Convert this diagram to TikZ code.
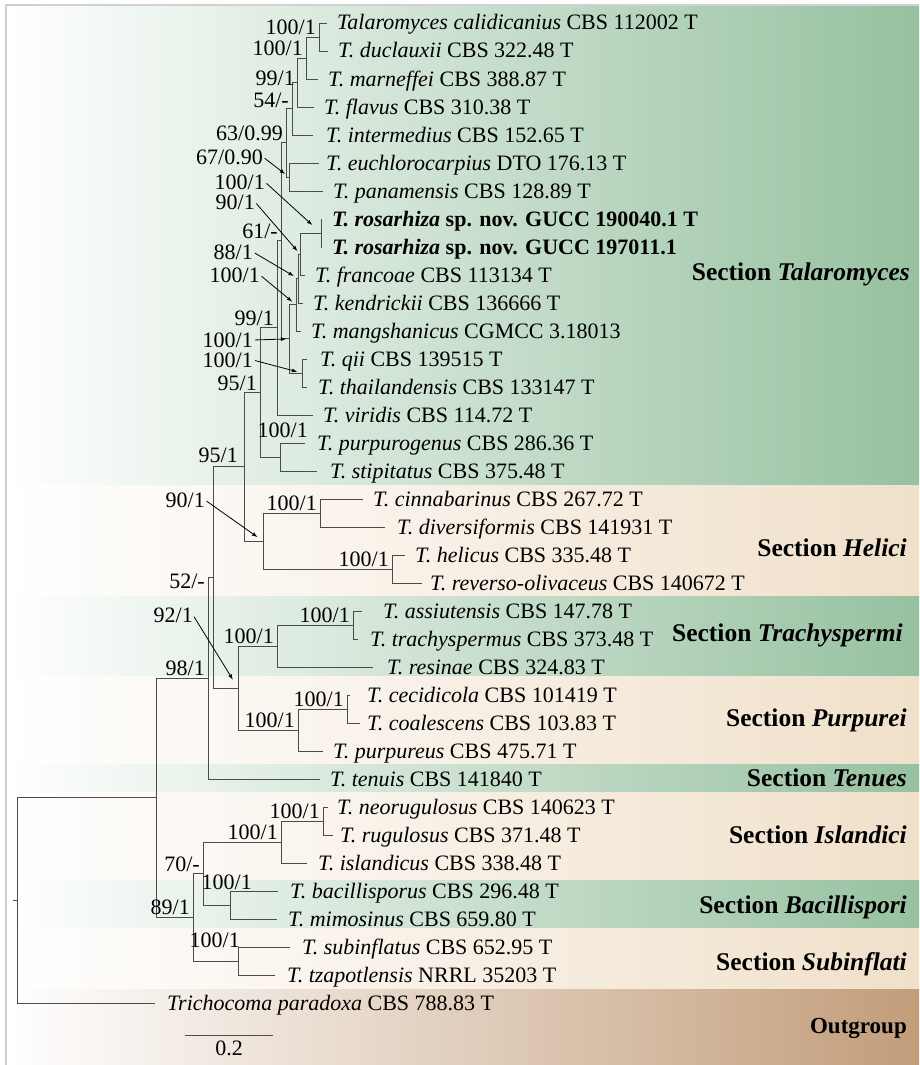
\documentclass[tikz,border=0pt]{standalone}
\usepackage{fontspec}
\setmainfont{Liberation Serif}
\usetikzlibrary{positioning}
\definecolor{BandGreen}{RGB}{150,193,160}
\definecolor{BandBeige}{RGB}{240,224,202}
\definecolor{BandBrown}{RGB}{194,157,122}
\definecolor{TreeGray}{RGB}{75,75,75}
\tikzset{
  branch/.style={TreeGray, line width=0.9pt},
  leaf/.style={anchor=west, inner xsep=#1, inner ysep=0pt, text height=15pt, text depth=1pt, font=\fontsize{22}{26}\selectfont},
  leaf/.default=10pt,
  support/.style={anchor=base east, inner sep=0pt, font=\fontsize{22}{26}\selectfont},
  bs/.style={support, xshift=-3pt, yshift=2.5pt},
  bsarrow/.style={anchor=east, inner sep=0pt, text height=15pt, text depth=0pt, font=\fontsize{22}{26}\selectfont},
  pointer/.style={-latex, line width=0.8pt, black, shorten <=2pt, shorten >=#1},
  pointer/.default=4pt,
  section/.style={anchor=base east, inner sep=0pt, font=\fontsize{25.5}{30}\selectfont\bfseries},
  band/.style={left color=white, middle color=#1!42!white, right color=#1},
}
\begin{document}
\begin{tikzpicture}[x=1pt, y=-1pt]
    \useasboundingbox (0,0) rectangle (919,1065);
    % section bands
    \shade [band=BandGreen] (7,6)    rectangle (919,485);
    \shade [band=BandBeige] (7,485)  rectangle (919,596);
    \shade [band=BandGreen] (7,596)  rectangle (919,676);
    \shade [band=BandBeige] (7,676)  rectangle (919,764);
    \shade [band=BandGreen] (7,764)  rectangle (919,792);
    \shade [band=BandBeige] (7,792)  rectangle (919,880);
    \shade [band=BandGreen] (7,880)  rectangle (919,928);
    \shade [band=BandBeige] (7,928)  rectangle (919,989);
    \shade [band=BandBrown] (7,989)  rectangle (919,1065);
    \draw [black!18, line width=1.5pt] (6,1065) -- (6,5) -- (919,5);% frame

    % taxa
    \node[leaf]     (calidicanius)    at (327,23)   {\textit{Talaromyces calidicanius} CBS 112002 T};
    \node[leaf]     (duclauxii)       at (328,51)   {\textit{T. duclauxii} CBS 322.48 T};
    \node[leaf]     (marneffei)       at (318,79)   {\textit{T. marneffei} CBS 388.87 T};
    \node[leaf]     (flavus)          at (314,107)  {\textit{T. flavus} CBS 310.38 T};
    \node[leaf=13pt] (intermedius)    at (313,135)  {\textit{T. intermedius} CBS 152.65 T};
    \node[leaf=7pt] (euchlorocarpius) at (319,163)  {\textit{T. euchlorocarpius} DTO 176.13 T};
    \node[leaf]     (panamensis)      at (323,191)  {\textit{T. panamensis} CBS 128.89 T};
    \node[leaf]     (rosaA)           at (322,219)  {\textbf{\textit{T. rosarhiza} sp. nov. GUCC 190040.1 T}};
    \node[leaf]     (rosaB)           at (322,247)  {\textbf{\textit{T. rosarhiza} sp. nov. GUCC 197011.1}};
    \node[leaf]     (francoae)        at (305,275)  {\textit{T. francoae} CBS 113134 T};
    \node[leaf]     (kendrickii)      at (303,303)  {\textit{T. kendrickii} CBS 136666 T};
    \node[leaf]     (mangshanicus)    at (301,331)  {\textit{T. mangshanicus} CGMCC 3.18013};
    \node[leaf=13pt] (qii)            at (307,359)  {\textit{T. qii} CBS 139515 T};
    \node[leaf=11pt] (thailandensis)  at (307,387)  {\textit{T. thailandensis} CBS 133147 T};
    \node[leaf]     (viridis)         at (313,415)  {\textit{T. viridis} CBS 114.72 T};
    \node[leaf=12pt] (purpurogenus)   at (305,443)  {\textit{T. purpurogenus} CBS 286.36 T};
    \node[leaf=13pt] (stipitatus)     at (317,471)  {\textit{T. stipitatus} CBS 375.48 T};
    \node[leaf]     (cinnabarinus)    at (363,499)  {\textit{T. cinnabarinus} CBS 267.72 T};
    \node[leaf=12pt] (diversiformis)  at (385,527)  {\textit{T. diversiformis} CBS 141931 T};
    \node[leaf]     (helicus)         at (405,555)  {\textit{T. helicus} CBS 335.48 T};
    \node[leaf=8pt] (reverso)         at (422,583)  {\textit{T. reverso-olivaceus} CBS 140672 T};
    \node[leaf=21pt] (assiutensis)    at (362,611)  {\textit{T. assiutensis} CBS 147.78 T};
    \node[leaf=12pt] (trachyspermus)  at (358,639)  {\textit{T. trachyspermus} CBS 373.48 T};
    \node[leaf=14pt] (resinae)        at (373,667)  {\textit{T. resinae} CBS 324.83 T};
    \node[leaf=17pt] (cecidicola)     at (350,695)  {\textit{T. cecidicola} CBS 101419 T};
    \node[leaf=7pt] (coalescens)      at (360,723)  {\textit{T. coalescens} CBS 103.83 T};
    \node[leaf]     (purpureus)       at (323,751)  {\textit{T. purpureus} CBS 475.71 T};
    \node[leaf]     (tenuis)          at (320,779)  {\textit{T. tenuis} CBS 141840 T};
    \node[leaf=9pt] (neorugulosus)    at (328,807)  {\textit{T. neorugulosus} CBS 140623 T};
    \node[leaf=7pt] (rugulosus)       at (333,835)  {\textit{T. rugulosus} CBS 371.48 T};
    \node[leaf=11pt] (islandicus)     at (307,863)  {\textit{T. islandicus} CBS 338.48 T};
    \node[leaf=12pt] (bacillisporus)  at (278,891)  {\textit{T. bacillisporus} CBS 296.48 T};
    \node[leaf=11pt] (mimosinus)      at (277,919)  {\textit{T. mimosinus} CBS 659.80 T};
    \node[leaf=12pt] (subinflatus)    at (290,947)  {\textit{T. subinflatus} CBS 652.95 T};
    \node[leaf=12pt] (tzapotlensis)   at (275,975)  {\textit{T. tzapotlensis} NRRL 35203 T};
    \node[leaf=12pt] (paradoxa)       at (155,1003) {\textit{Trichocoma paradoxa} CBS 788.83 T};

    % internal nodes
    \coordinate (CalDuc)   at (319,37);
    \coordinate (Marn)     at (306,58);
    \coordinate (Flav)     at (297,82.5);
    \coordinate (Inter)    at (292,108.75);
    \coordinate (EuchPan)  at (289,177);
    \coordinate (UpperTal) at (286,142.9);
    \coordinate (Rosa)     at (321,233);
    \coordinate (Franc)    at (300,254);
    \coordinate (Kend)     at (298,278.5);
    \coordinate (Mang)     at (296,304.75);
    \coordinate (QiiTha)   at (302,373);
    \coordinate (MidTal)   at (289,338.9);
    \coordinate (CoreTal)  at (281,240.9);
    \coordinate (Virid)    at (277,327.9);
    \coordinate (PurSti)   at (280,457);
    \coordinate (SecTal)   at (260,392.5);
    \coordinate (CinDiv)   at (320,513);
    \coordinate (HelRev)   at (392,569);
    \coordinate (SecHel)   at (263,541);
    \coordinate (TalHel)   at (244,466.7);
    \coordinate (AssTra)   at (353,625);
    \coordinate (SecTra)   at (277,646);
    \coordinate (CecCoa)   at (347,709);
    \coordinate (SecPur)   at (298,730);
    \coordinate (TraPur)   at (238,688);
    \coordinate (Clade52)  at (213,577.4);
    \coordinate (Clade98)  at (208,678.2);
    \coordinate (NeoRug)   at (323,821);
    \coordinate (SecIsl)   at (281,842);
    \coordinate (SecBac)   at (230,905);
    \coordinate (IslBac)   at (203,873.5);
    \coordinate (SecSub)   at (238,961);
    \coordinate (Clade89)  at (193,917.2);
    \coordinate (Ingroup)  at (156,797.7);
    \coordinate (Root)     at (17,900.4);
    \coordinate (RootStub) at (13,900.4);

    % branches
    \draw[branch] (CalDuc) |- (calidicanius.west)  (CalDuc) |- (duclauxii.west);
    \draw[branch] (Marn) |- (CalDuc)  (Marn) |- (marneffei.west);
    \draw[branch] (Flav) |- (Marn)  (Flav) |- (flavus.west);
    \draw[branch] (Inter) |- (Flav)  (Inter) |- (intermedius.west);
    \draw[branch] (EuchPan) |- (euchlorocarpius.west)  (EuchPan) |- (panamensis.west);
    \draw[branch] (UpperTal) |- (Inter)  (UpperTal) |- (EuchPan);
    \draw[branch] (Rosa) |- (rosaA.west)  (Rosa) |- (rosaB.west);
    \draw[branch] (Franc) |- (Rosa)  (Franc) |- (francoae.west);
    \draw[branch] (Kend) |- (Franc)  (Kend) |- (kendrickii.west);
    \draw[branch] (Mang) |- (Kend)  (Mang) |- (mangshanicus.west);
    \draw[branch] (QiiTha) |- (qii.west)  (QiiTha) |- (thailandensis.west);
    \draw[branch] (MidTal) |- (Mang)  (MidTal) |- (QiiTha);
    \draw[branch] (CoreTal) |- (UpperTal)  (CoreTal) |- (MidTal);
    \draw[branch] (Virid) |- (CoreTal)  (Virid) |- (viridis.west);
    \draw[branch] (PurSti) |- (purpurogenus.west)  (PurSti) |- (stipitatus.west);
    \draw[branch] (SecTal) |- (Virid)  (SecTal) |- (PurSti);
    \draw[branch] (CinDiv) |- (cinnabarinus.west)  (CinDiv) |- (diversiformis.west);
    \draw[branch] (HelRev) |- (helicus.west)  (HelRev) |- (reverso.west);
    \draw[branch] (SecHel) |- (CinDiv)  (SecHel) |- (HelRev);
    \draw[branch] (TalHel) |- (SecTal)  (TalHel) |- (SecHel);
    \draw[branch] (AssTra) |- (assiutensis.west)  (AssTra) |- (trachyspermus.west);
    \draw[branch] (SecTra) |- (AssTra)  (SecTra) |- (resinae.west);
    \draw[branch] (CecCoa) |- (cecidicola.west)  (CecCoa) |- (coalescens.west);
    \draw[branch] (SecPur) |- (CecCoa)  (SecPur) |- (purpureus.west);
    \draw[branch] (TraPur) |- (SecTra)  (TraPur) |- (SecPur);
    \draw[branch] (Clade52) |- (TalHel)  (Clade52) |- (TraPur);
    \draw[branch] (Clade98) |- (Clade52)  (Clade98) |- (tenuis.west);
    \draw[branch] (NeoRug) |- (neorugulosus.west)  (NeoRug) |- (rugulosus.west);
    \draw[branch] (SecIsl) |- (NeoRug)  (SecIsl) |- (islandicus.west);
    \draw[branch] (SecBac) |- (bacillisporus.west)  (SecBac) |- (mimosinus.west);
    \draw[branch] (IslBac) |- (SecIsl)  (IslBac) |- (SecBac);
    \draw[branch] (SecSub) |- (subinflatus.west)  (SecSub) |- (tzapotlensis.west);
    \draw[branch] (Clade89) |- (IslBac)  (Clade89) |- (SecSub);
    \draw[branch] (Ingroup) |- (Clade98)  (Ingroup) |- (Clade89);
    \draw[branch] (Root) |- (Ingroup)  (Root) |- (paradoxa.west);
    \draw[branch] (RootStub) -- (Root);

    % support values
    \node[bs] at (CalDuc) {100/1};
    \node[bs] at (Marn) {100/1};
    \node[support] at (295,85) {99/1};
    \node[bs, yshift=-1.5pt] at (Inter) {54/-};
    \node[bs] at (UpperTal) {63/0.99};
    \node[bs] at (CoreTal) {61/-};
    \node[bs] at (Virid) {99/1};
    \node[bs] at (SecTal) {95/1};
    \node[support] at (308,437) {100/1};
    \node[bs] at (CinDiv) {100/1};
    \node[bs] at (HelRev) {100/1};
    \node[support] at (238,462) {95/1};
    \node[bs] at (AssTra) {100/1};
    \node[bs] at (SecTra) {100/1};
    \node[bs] at (CecCoa) {100/1};
    \node[bs] at (SecPur) {100/1};
    \node[support] at (205,588) {52/-};
    \node[bs] at (Clade98) {98/1};
    \node[bs] at (NeoRug) {100/1};
    \node[bs] at (SecIsl) {100/1};
    \node[bs] at (IslBac) {70/-};
    \node[support] at (252,889) {100/1};
    \node[support] at (240,947) {100/1};
    \node[bs] at (Clade89) {89/1};

    % support values with pointers
    \node[bsarrow] (LabEuchPan) at (263,157) {67/0.90};
    \node[bsarrow] (LabRosa)    at (265,182) {100/1};
    \node[bsarrow] (LabFranc)   at (255,202) {90/1};
    \node[bsarrow] (LabKend)    at (253,252) {88/1};
    \node[bsarrow] (LabMang)    at (260,275) {100/1};
    \node[bsarrow] (LabMidTal)  at (253,340) {100/1};
    \node[bsarrow] (LabQiiTha)  at (253,360) {100/1};
    \node[bsarrow] (LabSecHel)  at (205,500) {90/1};
    \node[bsarrow] (LabTraPur)  at (193,615) {92/1};
    \draw[pointer=5pt]  (LabEuchPan.east) -- (EuchPan);
    \draw[pointer=12pt] (LabRosa.east) -- (Rosa);
    \draw[pointer=4pt]  (LabFranc.east) -- (Franc);
    \draw[pointer=5pt]  (LabKend.east) -- (Kend);
    \draw[pointer=5pt]  (LabMang.east) -- (Mang);
    \draw[pointer=3pt]  (LabMidTal.east) -- (MidTal);
    \draw[pointer=5pt]  (LabQiiTha.east) -- (QiiTha);
    \draw[pointer=7pt]  (LabSecHel.east) -- (SecHel);
    \draw[pointer=10pt] (LabTraPur.east) -- (TraPur);

    % sections
    \node[section] at (910,280.5) {Section \textit{Talaromyces}};
    \node[section] at (907,556.5) {Section \textit{Helici}};
    \node[section] at (903,641.5) {Section \textit{Trachyspermi}};
    \node[section] at (907,726.5) {Section \textit{Purpurei}};
    \node[section] at (907,786.5) {Section \textit{Tenues}};
    \node[section] at (907,843.5) {Section \textit{Islandici}};
    \node[section] at (907,913.5) {Section \textit{Bacillispori}};
    \node[section] at (907,970.5) {Section \textit{Subinflati}};
    \node[section, font=\fontsize{23}{27}\selectfont\bfseries] at (907,1033) {Outgroup};

    % scale bar
    \coordinate (ScaleL) at (185,1035);
    \coordinate (ScaleR) at (273,1035);
    \draw[branch] (ScaleL) -- (ScaleR) node[midway, below=2pt, black, font=\fontsize{22}{26}\selectfont] {0.2};
\end{tikzpicture}
\end{document}
